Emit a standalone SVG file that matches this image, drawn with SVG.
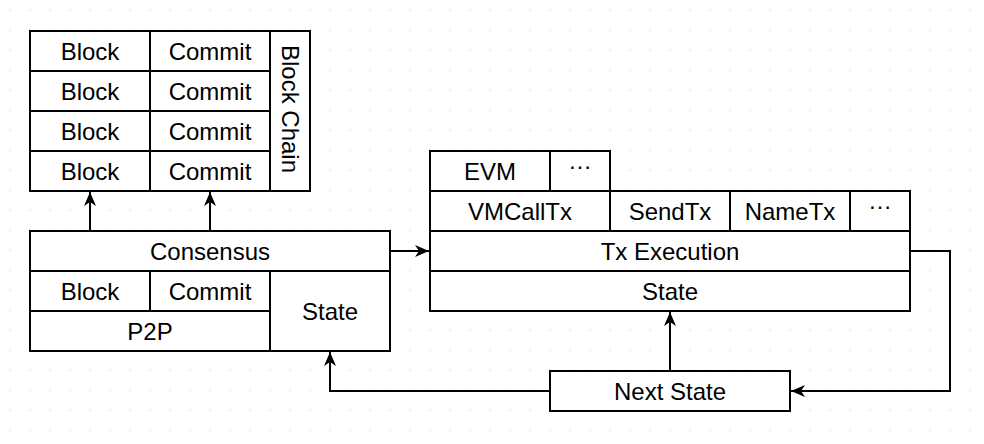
<svg xmlns="http://www.w3.org/2000/svg" width="984" height="444" viewBox="0 0 984 444">
<defs>
<pattern id="grid" width="20" height="20" patternUnits="userSpaceOnUse">
<rect x="9.5" y="9.5" width="1.2" height="1.2" fill="#cfcfcf"/>
</pattern>
<marker id="arr" markerWidth="16" markerHeight="14" refX="14" refY="6.5" orient="auto" markerUnits="userSpaceOnUse">
<path d="M0,0.5 L14,6.5 L0,12.5 L4,6.5 Z" fill="#000"/>
</marker>
<style>
.b{fill:#fff;stroke:#000;stroke-width:2}
.l{fill:none;stroke:#000;stroke-width:2}
.c{fill:none;stroke:#000;stroke-width:2;marker-end:url(#arr)}
text{font-family:"Liberation Sans",Arial,Helvetica,sans-serif;font-size:24px;fill:#000;text-anchor:middle}
</style>
</defs>
<rect width="984" height="444" fill="#fff"/>
<rect width="984" height="444" fill="url(#grid)"/>

<g id="blockchain">
<rect class="b" x="30" y="31" width="280" height="160"/>
<path class="l" d="M150,31V191M270,31V191M30,71H270M30,111H270M30,151H270"/>
<text x="90" y="59.5">Block</text><text x="210" y="59.5">Commit</text>
<text x="90" y="99.5">Block</text><text x="210" y="99.5">Commit</text>
<text x="90" y="139.5">Block</text><text x="210" y="139.5">Commit</text>
<text x="90" y="179.5">Block</text><text x="210" y="179.5">Commit</text>
<text transform="translate(282,109) rotate(90)">Block Chain</text>
</g>

<g id="consensus">
<rect class="b" x="30" y="231" width="360" height="120"/>
<path class="l" d="M30,271H390M30,311H270M270,271V351M150,271V311"/>
<text x="210" y="259.5">Consensus</text>
<text x="90" y="299.5">Block</text>
<text x="210" y="299.5">Commit</text>
<text x="150" y="339.5">P2P</text>
<text x="330" y="319.5">State</text>
</g>

<g id="txexecution">
<rect class="b" x="430" y="151" width="180" height="40"/>
<path class="l" d="M550,151V191"/>
<rect class="b" x="430" y="191" width="480" height="120"/>
<path class="l" d="M430,231H910M430,271H910M610,191V231M730,191V231M850,191V231"/>
<text x="490" y="179.5">EVM</text>
<text x="580" y="169">…</text>
<text x="520" y="219.5">VMCallTx</text>
<text x="670" y="219.5">SendTx</text>
<text x="790" y="219.5">NameTx</text>
<text x="880" y="209">…</text>
<text x="670" y="259.5">Tx Execution</text>
<text x="670" y="299.5">State</text>
</g>

<g id="nextstate">
<rect class="b" x="550" y="371" width="240" height="40"/>
<text x="670" y="399.5">Next State</text>
</g>

<g id="connectors">
<path class="c" d="M90,231V192"/>
<path class="c" d="M210,231V192"/>
<path class="c" d="M390,251H429"/>
<path class="c" d="M910,251H950V391H791"/>
<path class="c" d="M550,391H330V352"/>
<path class="c" d="M670,371V312"/>
</g>
</svg>
